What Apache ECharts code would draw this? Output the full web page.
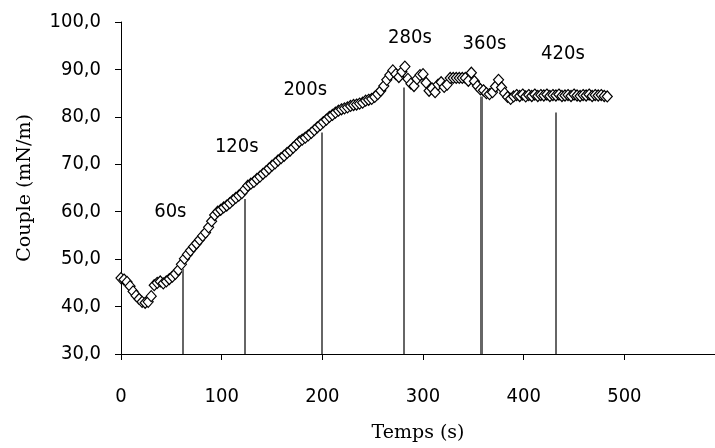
<!DOCTYPE html>
<html>
<head>
<meta charset="utf-8">
<script src="https://cdn.jsdelivr.net/npm/echarts@6/dist/echarts.min.js"></script>
<style>html,body{margin:0;padding:0;background:#fff}#c{width:715px;height:448px}</style>
</head>
<body>
<div id="c"></div>
<script>
var times = [0,3,6,9,12,15,18,21,24,27,30,33,36,39,42,45,48,51,54,57,60,63,66,69,72,75,78,81,84,87,90,93,96,99,102,105,108,111,114,117,120,123,126,129,132,135,138,141,144,147,150,153,156,159,162,165,168,171,174,177,180,183,186,189,192,195,198,201,204,207,210,213,216,219,222,225,228,231,234,237,240,243,246,249,252,255,258,261,264,267,270,273,276,279,282,285,288,291,294,297,300,303,306,309,312,315,318,321,324,327,330,333,336,339,342,345,348,351,354,357,360,363,366,369,372,375,378,381,384,387,390,393,396,399,402,405,408,411,414,417,420,423,426,429,432,435,438,441,444,447,450,453,456,459,462,465,468,471,474,477,480,483];
var couple = [46.0,45.7,45.2,44.3,43.2,42.3,41.6,41.0,40.8,41.0,42.2,44.5,45.0,45.3,44.9,45.3,45.8,46.3,46.9,47.7,48.9,50.1,51.0,51.8,52.6,53.3,54.1,54.9,55.6,56.7,58.0,59.3,60.0,60.4,60.9,61.3,61.8,62.4,62.9,63.4,63.9,64.7,65.5,65.9,66.3,66.9,67.4,68.0,68.5,69.1,69.7,70.2,70.8,71.3,71.8,72.4,72.9,73.5,74.1,74.8,75.2,75.6,76.1,76.6,77.2,77.8,78.3,78.9,79.4,80.0,80.4,80.9,81.3,81.6,81.8,82.0,82.3,82.5,82.6,82.8,83.0,83.4,83.6,83.8,84.2,84.8,85.5,86.5,87.8,88.8,89.8,89.0,88.4,89.5,90.6,88.0,87.0,86.5,88.0,88.8,89.0,87.2,85.5,86.0,85.2,86.8,87.3,86.3,86.8,88.2,88.2,88.2,88.2,88.2,88.2,87.6,89.3,87.5,86.5,85.8,85.6,85.0,84.8,85.2,86.4,87.8,86.2,85.0,84.2,83.8,84.3,84.6,84.4,84.7,84.3,84.6,84.4,84.7,84.4,84.6,84.5,84.7,84.4,84.6,84.5,84.7,84.4,84.5,84.6,84.4,84.7,84.5,84.4,84.6,84.5,84.7,84.4,84.6,84.5,84.6,84.4,84.3];
var markTimes = [61, 123, 199, 281, 358, 432];
var markTops = [48, 62.7, 76.7, 86.2, 84.3, 80.9];
var annotText = ['60s','120s','200s','280s','360s','420s'];
var annotX = [49, 115, 183, 287, 361, 439];
var annotY = [60.0, 73.6, 85.8, 96.7, 95.4, 93.3];
var xTicks = {min: 0, max: 590, interval: 100};
var yTicks = {min: 30, max: 100, interval: 10};

var sansC = "'DejaVu Sans Condensed','Roboto Condensed',sans-serif";
var serif = "'DejaVu Serif','Liberation Serif',serif";

var pts = times.map(function(t, i){ return [t, couple[i]]; });
var chart = echarts.init(document.getElementById('c'), null, {renderer: 'canvas'});
chart.setOption({
  animation: false,
  backgroundColor: '#fff',
  grid: {left: 121, right: 0, top: 22, bottom: 92, containLabel: false},
  xAxis: {
    type: 'value', min: xTicks.min, max: xTicks.max, interval: xTicks.interval,
    name: 'Temps (s)', nameLocation: 'middle', nameGap: 70,
    nameTextStyle: {fontFamily: serif, fontSize: 19, color: '#000'},
    axisLine: {show: true, lineStyle: {color: '#000', width: 1}},
    axisTick: {show: true, inside: false, length: 6, lineStyle: {color: '#000'}},
    axisLabel: {margin: 33, fontFamily: sansC, fontSize: 20, color: '#000', showMaxLabel: false},
    splitLine: {show: false}
  },
  yAxis: {
    type: 'value', min: yTicks.min, max: yTicks.max, interval: yTicks.interval,
    name: 'Couple (mN/m)', nameLocation: 'middle', nameGap: 86, nameRotate: 90,
    nameTextStyle: {fontFamily: serif, fontSize: 19, color: '#000'},
    axisLine: {show: true, lineStyle: {color: '#000', width: 1}},
    axisTick: {show: true, inside: false, length: 6, lineStyle: {color: '#000'}},
    axisLabel: {margin: 20, fontFamily: sansC, fontSize: 20, color: '#000',
      formatter: function(v){ return v.toFixed(1).replace('.', ','); }},
    splitLine: {show: false}
  },
  series: [
    {
      type: 'scatter', data: [], z: 1, silent: true,
      markLine: {
        silent: true, symbol: 'none', animation: false,
        label: {show: false},
        lineStyle: {color: '#666', width: 2, type: 'solid'},
        data: markTimes.map(function(x, i){
          return [{coord: [x, yTicks.min], lineStyle: {width: i === 4 ? 3 : 2}}, {coord: [x, markTops[i]]}];
        })
      }
    },
    {
      type: 'scatter', z: 3, silent: true,
      symbol: 'diamond', symbolSize: [10, 11],
      itemStyle: {color: '#fff', borderColor: '#000', borderWidth: 1.2, opacity: 1},
      data: pts
    },
    {
      type: 'scatter', z: 4, silent: true, symbolSize: 0,
      itemStyle: {opacity: 1},
      label: {show: true, position: 'inside', formatter: '{b}', fontFamily: sansC, fontSize: 20, color: '#000', opacity: 1},
      data: annotText.map(function(s, i){ return {name: s, value: [annotX[i], annotY[i]]}; })
    }
  ]
});
</script>
</body>
</html>
